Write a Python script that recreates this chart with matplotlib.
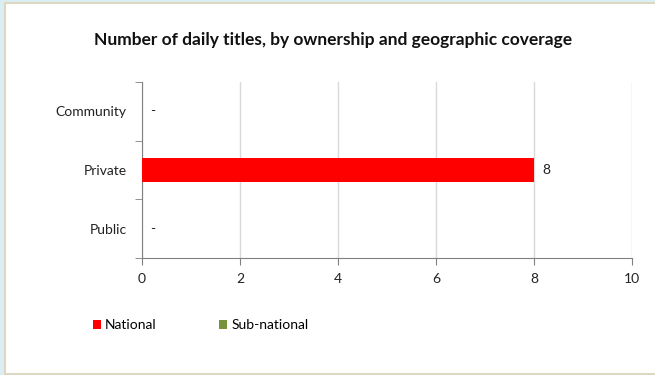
import matplotlib.pyplot as plt
from matplotlib.patches import Rectangle

# data
categories = ['Public', 'Private', 'Community']
national = [0, 8, 0]
subnational = [0, 0, 0]
labels = ['-', '8', '-']
xticks = [0, 2, 4, 6, 8, 10]

plt.rcParams['font.family'] = ['Lato', 'DejaVu Sans']

fig = plt.figure(figsize=(6.55, 3.75), dpi=100)
fig.patch.set_facecolor('#dbeef4')

# white panel with beige border
W, H = 655, 375
panel = Rectangle((5 / W, 1 / H), 660 / W, 371 / H, transform=fig.transFigure,
                  facecolor='white', edgecolor='#ddd8c2', linewidth=1.5, zorder=-10)
fig.patches.append(panel)

ax = fig.add_axes([142 / W, 1 - 258 / H, (632 - 142) / W, (258 - 82) / H])
ax.set_facecolor('none')

pos = list(range(len(categories)))
ax.barh(pos, national, height=0.42, color='#ff0000', label='National', zorder=3)
ax.barh(pos, subnational, height=0.42, left=national, color='#77933c',
        label='Sub-national', zorder=3)

for p, v, t in zip(pos, national, labels):
    ax.text(v + 0.17, p, t, va='center', ha='left', fontsize=10, color='#222222')

ax.set_xlim(0, 10)
ax.set_ylim(-0.5, 2.5)
ax.set_xticks(xticks)
ax.set_xticklabels([str(x) for x in xticks], fontsize=10, color='#222222')
ax.set_yticks(pos)
ax.set_yticklabels(categories, fontsize=10, color='#222222')
ax.set_yticks([-0.5, 0.5, 1.5, 2.5], minor=True)
ax.tick_params(axis='y', which='major', length=0, pad=11)
ax.tick_params(axis='y', which='minor', length=5, color='#808080')
ax.tick_params(axis='x', length=5, color='#808080', pad=6)

ax.grid(axis='x', color='#d9d9d9', linewidth=1, zorder=0)
for s in ['top', 'right']:
    ax.spines[s].set_visible(False)
for s in ['left', 'bottom']:
    ax.spines[s].set_color('#808080')

fig.text(333 / W, 1 - 40 / H, 'Number of daily titles, by ownership and geographic coverage',
         ha='center', va='center', fontsize=12.5, fontweight='bold', color='#111111')

handles, lbls = ax.get_legend_handles_labels()
fig.legend(handles, lbls, loc='center left', bbox_to_anchor=(80 / W, 1 - 325 / H),
           ncol=2, frameon=False, fontsize=10, handlelength=0.6, handleheight=0.6,
           handletextpad=0.3, columnspacing=4.5)

fig.savefig('out.png', dpi=100)
